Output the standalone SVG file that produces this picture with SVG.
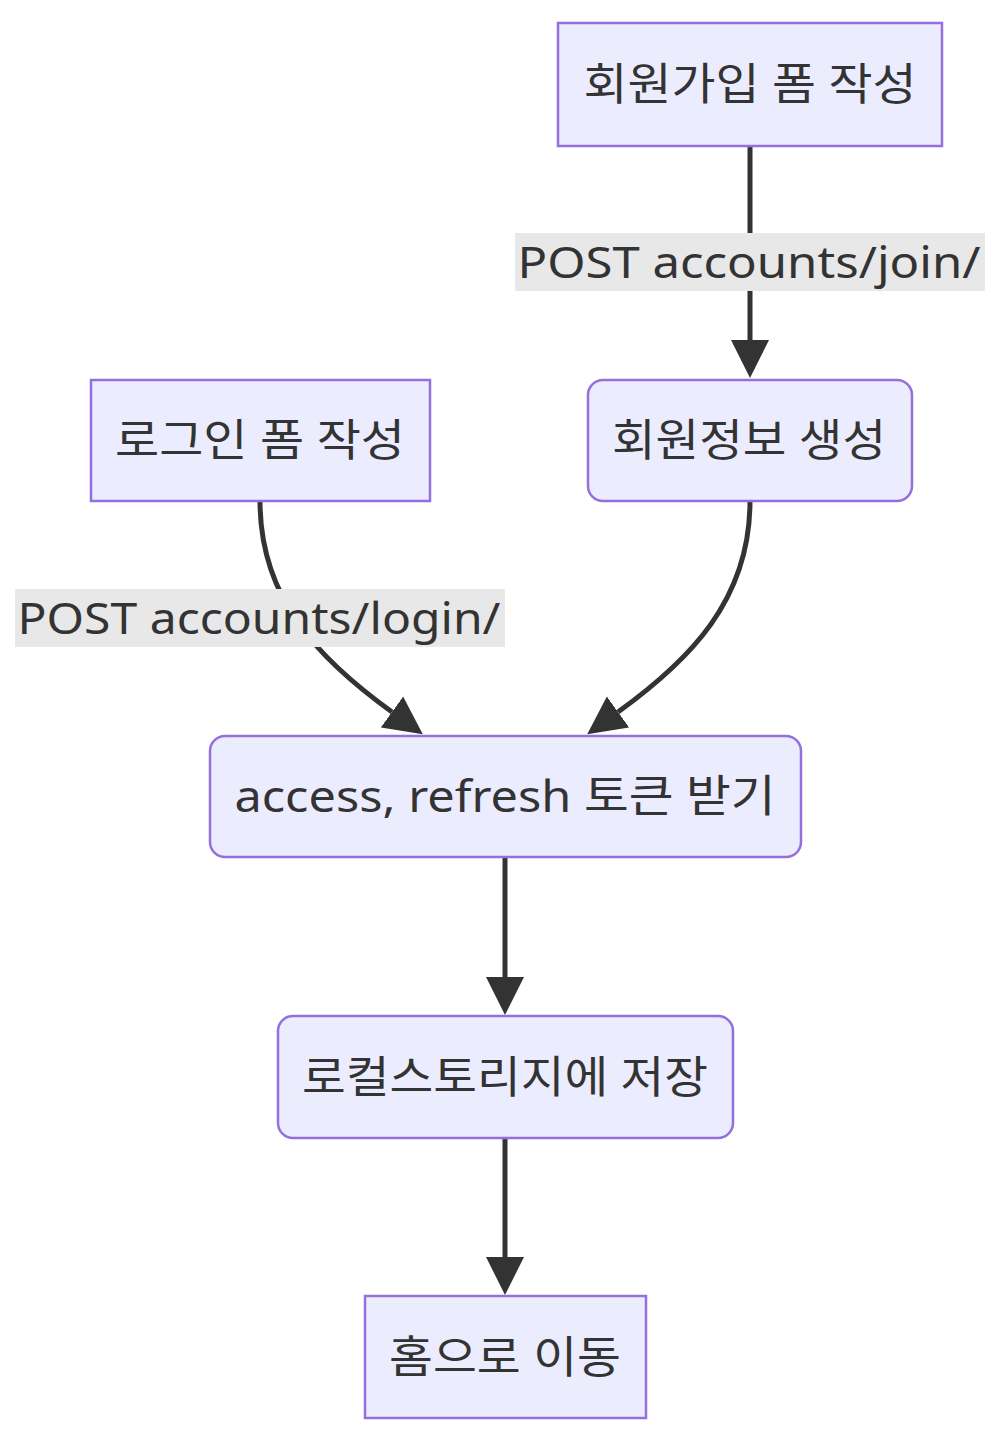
<svg xmlns="http://www.w3.org/2000/svg" width="998" height="1442" viewBox="0 0 998 1442">
<defs>
<marker id="arrow" markerUnits="userSpaceOnUse" markerWidth="40" markerHeight="40" viewBox="0 -20 40 40" refX="0" refY="0" orient="auto">
<path d="M0,-19 L38,0 L0,19 Z" fill="#333333"/>
</marker>
</defs>
<style>
.node rect{fill:#ECECFF;stroke:#9370DB;stroke-width:2.5}
.node text,.elabel text{font-family:"Noto Sans","Noto Sans CJK KR",sans-serif;font-size:44px;fill:#333333;text-anchor:middle}
.elabel rect{fill:#e8e8e8}
.edge{fill:none;stroke:#333333;stroke-width:5;marker-end:url(#arrow)}
</style>
<rect x="0" y="0" width="998" height="1442" fill="#ffffff"/>
<g id="connectors">
<path class="edge" d="M750,146 L750,340"/>
<path class="edge" d="M260,501 C260,600 320,660 392,712"/>
<path class="edge" d="M750,501 C750,600 690,660 618,712"/>
<path class="edge" d="M505,857 L505,977"/>
<path class="edge" d="M505,1138 L505,1257"/>
<g class="elabel" id="label-join">
<rect x="515" y="233" width="470" height="58"/>
<text x="749" y="278" textLength="463" lengthAdjust="spacingAndGlyphs">POST accounts/join/</text>
</g>
<g class="elabel" id="label-login">
<rect x="15" y="589" width="490" height="58"/>
<text x="259" y="634" textLength="483" lengthAdjust="spacingAndGlyphs">POST accounts/login/</text>
</g>
</g>
<g class="node" id="join-form">
<rect x="558" y="23" width="384" height="123"/>
<text x="750" y="100" textLength="333" lengthAdjust="spacingAndGlyphs">회원가입 폼 작성</text>
</g>
<g class="node" id="create-user">
<rect x="588" y="380" width="324" height="121" rx="15" ry="15"/>
<text x="749" y="456" textLength="274" lengthAdjust="spacingAndGlyphs">회원정보 생성</text>
</g>
<g class="node" id="login-form">
<rect x="91" y="380" width="339" height="121"/>
<text x="260" y="456" textLength="290" lengthAdjust="spacingAndGlyphs">로그인 폼 작성</text>
</g>
<g class="node" id="get-tokens">
<rect x="210" y="736" width="591" height="121" rx="15" ry="15"/>
<text x="505" y="812" textLength="541" lengthAdjust="spacingAndGlyphs">access, refresh 토큰 받기</text>
</g>
<g class="node" id="save-local">
<rect x="278" y="1016" width="455" height="122" rx="15" ry="15"/>
<text x="505" y="1093" textLength="406" lengthAdjust="spacingAndGlyphs">로컬스토리지에 저장</text>
</g>
<g class="node" id="go-home">
<rect x="365" y="1296" width="281" height="122"/>
<text x="505" y="1373" textLength="232" lengthAdjust="spacingAndGlyphs">홈으로 이동</text>
</g>
</svg>
